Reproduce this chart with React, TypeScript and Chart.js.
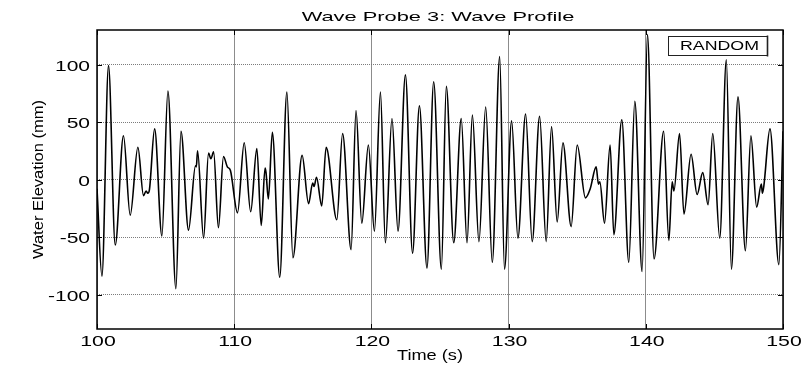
import { useEffect, useRef } from 'react';
import { Chart, registerables } from 'chart.js';

Chart.register(...registerables);

// Time (s) of each crest / trough
const times = [
  100.0, 100.36, 100.84, 101.33, 101.93, 102.42, 102.98, 103.39, 103.58, 103.7, 103.82,
  104.2, 104.73, 105.17, 105.75, 106.12, 106.67, 107.18, 107.24, 107.33, 107.77,
  108.13, 108.3, 108.5, 108.85, 109.22, 109.5, 109.72, 110.24, 110.73, 111.2,
  111.65, 111.97, 112.25, 112.32, 112.49, 112.78, 113.32, 113.84, 114.28, 114.95,
  115.42, 115.72, 115.82, 116.0, 116.38, 116.7, 117.48, 117.9, 118.52, 118.88,
  119.3, 119.78, 120.22, 120.66, 121.02, 121.5, 121.94, 122.48, 123.0, 123.5,
  124.05, 124.54, 125.1, 125.46, 126.0, 126.55, 126.97, 127.36, 127.84, 128.33,
  128.81, 129.35, 129.7, 130.22, 130.68, 131.24, 131.72, 132.26, 132.74, 133.13,
  133.54, 133.96, 134.56, 135.0, 135.6, 135.95, 136.38, 136.55, 136.65, 136.99,
  137.4, 137.67, 138.25, 138.76, 139.2, 139.73, 140.12, 140.6, 141.3, 141.68,
  141.92, 142.05, 142.46, 142.78, 143.3, 143.74, 144.15, 144.54, 144.88, 145.39,
  145.87, 146.24, 146.72, 147.26, 147.66, 148.08, 148.42, 148.5, 148.6, 149.05,
  149.7, 150.0,
];

// Water elevation (mm) at each of those times
const elevations = [
  -8, -84, 99, -57, 38, -31, 28, -14, -10, -12, -9,
  44, -49, 77, -95, 42, -44, 12, 11, 25, -51,
  23, 18, 24, -42, 20, 11, 8, -29, 32, -28,
  27, -40, 10, 6, -17, 41, -85, 76, -68, 21,
  -21, -3, -6, 2, -23, 28, -35, 40, -61, 60,
  -38, 30, -45, 76, -55, 53, -45, 91, -64, 64,
  -77, 85, -78, 81, -55, 53, -55, 56, -54, 63,
  -72, 107, -78, 51, -51, 57, -54, 55, -54, 46,
  -37, 32, -41, 30, -16, -8, 11, -4, -2, -38,
  30, -48, 52, -72, 68, -80, 126, -69, 42, -53,
  -2, -10, 40, -30, 22, -13, 6, -22, 40, -51,
  104, -78, 72, -62, 38, -24, -4, -12, -6, 44,
  -74, 42,
];

const xTickValues = [100, 110, 120, 130, 140, 150];
const yTickValues = [-100, -50, 0, 50, 100];

const chartTitle = 'Wave Probe 3: Wave Profile';
const xAxisTitle = 'Time (s)';
const yAxisTitle = 'Water Elevation (mm)';
const legendLabel = 'RANDOM';

const FONT = '"Liberation Sans", Arial, Helvetica, sans-serif';

function stretchedText(
  ctx: CanvasRenderingContext2D,
  text: string,
  x: number,
  y: number,
  size: number,
  sx: number,
  align: CanvasTextAlign,
  rotate = 0,
) {
  ctx.save();
  ctx.translate(x, y);
  if (rotate) ctx.rotate(rotate);
  ctx.scale(sx, 1);
  ctx.font = `${size}px ${FONT}`;
  ctx.textAlign = align;
  ctx.textBaseline = 'alphabetic';
  ctx.fillStyle = '#000';
  ctx.fillText(text, 0, 0);
  ctx.restore();
}

const decorPlugin = {
  id: 'matlabDecor',
  afterDraw(chart: any) {
    const { ctx, chartArea: a, scales } = chart;
    const xs = scales.x;
    const ys = scales.y;
    ctx.save();
    // inward ticks
    ctx.strokeStyle = '#000';
    ctx.lineWidth = 1;
    ctx.beginPath();
    for (const v of xTickValues) {
      const px = Math.round(xs.getPixelForValue(v)) + 0.5;
      ctx.moveTo(px, a.top);
      ctx.lineTo(px, a.top + 5);
      ctx.moveTo(px, a.bottom);
      ctx.lineTo(px, a.bottom - 5);
    }
    for (const v of yTickValues) {
      const py = Math.round(ys.getPixelForValue(v)) + 0.5;
      ctx.moveTo(a.left, py);
      ctx.lineTo(a.left + 5, py);
      ctx.moveTo(a.right, py);
      ctx.lineTo(a.right - 5, py);
    }
    ctx.stroke();
    // frame
    ctx.lineWidth = 1.5;
    ctx.strokeRect(a.left, a.top, a.right - a.left, a.bottom - a.top);
    ctx.restore();

    // tick labels
    for (const v of xTickValues) {
      const px = xs.getPixelForValue(v);
      stretchedText(ctx, String(v), px + 1, a.bottom + 17, 14, 1.52, 'center');
    }
    for (const v of yTickValues) {
      const py = ys.getPixelForValue(v);
      stretchedText(ctx, String(v), a.left - 7, py + 6, 14, 1.5, 'right');
    }
    // titles
    const cx = (a.left + a.right) / 2;
    stretchedText(ctx, chartTitle, cx - 2, 20.5, 13, 1.68, 'center');
    stretchedText(ctx, xAxisTitle, cx - 10, a.bottom + 31, 14, 1.3, 'center');
    stretchedText(ctx, yAxisTitle, 43, (a.top + a.bottom) / 2, 14, 1.18, 'center', -Math.PI / 2);

    // legend box
    const lw = 99;
    const lh = 19;
    const lx = Math.round(a.right - 115) + 0.5;
    const ly = Math.round(a.top + 6) + 0.5;
    ctx.save();
    ctx.fillStyle = '#fff';
    ctx.fillRect(lx, ly, lw, lh);
    ctx.strokeStyle = '#222';
    ctx.lineWidth = 1;
    ctx.strokeRect(lx, ly, lw, lh);
    ctx.lineWidth = 1.6;
    ctx.beginPath();
    ctx.moveTo(lx + lw, ly - 1);
    ctx.lineTo(lx + lw, ly + lh + 1);
    ctx.stroke();
    ctx.restore();
    stretchedText(ctx, legendLabel, lx + 51, ly + 13.5, 12, 1.48, 'center');
  },
};

export default function App() {
  const canvasRef = useRef<HTMLCanvasElement | null>(null);

  useEffect(() => {
    const canvas = canvasRef.current;
    if (!canvas) return;
    const points = times.map((t, i) => ({ x: t, y: elevations[i] }));
    const chart = new Chart(canvas, {
      type: 'line',
      data: {
        datasets: [
          {
            label: legendLabel,
            data: points,
            borderColor: '#000',
            borderWidth: 1.6,
            pointRadius: 0,
            fill: false,
            cubicInterpolationMode: 'monotone',
          },
        ],
      },
      options: {
        responsive: false,
        animation: false,
        layout: { padding: { top: 30, right: 21, left: 0, bottom: 0 } },
        plugins: {
          legend: { display: false },
          title: { display: false },
          tooltip: { enabled: false },
        },
        scales: {
          x: {
            type: 'linear',
            min: 100,
            max: 150,
            afterBuildTicks: (s: any) => {
              s.ticks = xTickValues.map((v) => ({ value: v }));
            },
            afterFit: (s: any) => {
              s.height = 36;
            },
            ticks: { display: false },
            grid: { color: 'rgba(120,120,120,0.85)', lineWidth: 1, drawTicks: false },
            border: { display: false },
          },
          y: {
            type: 'linear',
            min: -130,
            max: 130,
            afterBuildTicks: (s: any) => {
              s.ticks = yTickValues.map((v) => ({ value: v }));
            },
            afterFit: (s: any) => {
              s.width = 97;
            },
            ticks: { display: false },
            grid: { color: 'rgba(110,110,110,0.9)', lineWidth: 1, drawTicks: false },
            border: { display: false, dash: [1, 1] },
          },
        },
      },
      plugins: [decorPlugin],
    } as any);
    return () => chart.destroy();
  }, []);

  return (
    <div style={{ position: 'fixed', left: 0, top: 0, width: 804, height: 365, background: '#fff' }}>
      <canvas ref={canvasRef} width={804} height={365} style={{ display: 'block' }} />
    </div>
  );
}
